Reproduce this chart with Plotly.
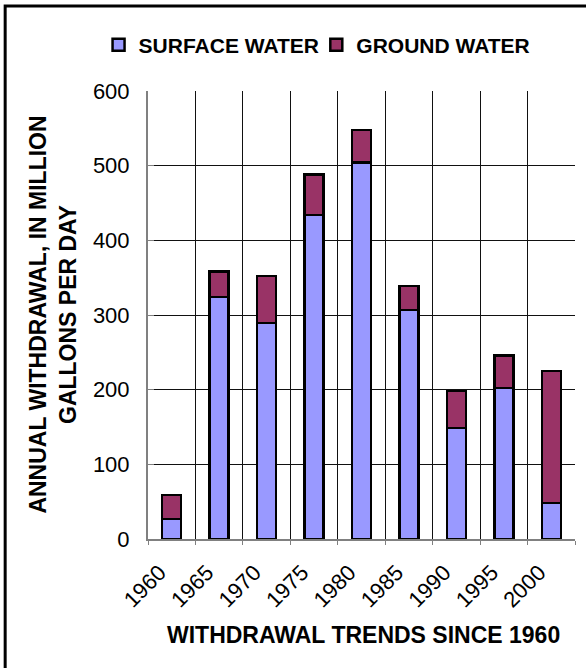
import plotly.graph_objects as go

years = ["1960", "1965", "1970", "1975", "1980", "1985", "1990", "1995", "2000"]
surface_water = [27, 324, 289, 434, 504, 307, 149, 202, 48]
ground_water = [32, 34, 63, 54, 44, 32, 49, 44, 177]
y_ticks = [0, 100, 200, 300, 400, 500, 600]

FONT = "Arial, Liberation Sans, sans-serif"

W, H = 586, 668
L, R, T, B = 147.5, 11, 91, 128.5
pw, ph = W - L - R, H - T - B

def px_x(p):
    return (p - L) / pw

def px_y(p):
    return (H - B - p) / ph

legend_font = dict(family=FONT, size=21, color="black", weight="bold")

fig = go.Figure()
fig.add_trace(go.Bar(
    x=years, y=surface_water, name="SURFACE WATER",
    marker=dict(color="#9999FF", line=dict(color="#000000", width=2.5)),
    legend="legend",
))
fig.add_trace(go.Bar(
    x=years, y=ground_water, name="GROUND WATER",
    marker=dict(color="#993366", line=dict(color="#000000", width=2.5)),
    legend="legend2",
))

fig.update_layout(
    barmode="stack",
    bargap=0.6,
    width=W, height=H,
    margin=dict(l=L, r=R, t=T, b=B, autoexpand=False),
    paper_bgcolor="white",
    plot_bgcolor="white",
    font=dict(family=FONT, color="black"),
    showlegend=True,
    legend=dict(
        orientation="h",
        x=px_x(98), xanchor="left",
        y=px_y(45), yanchor="middle",
        font=legend_font,
        bgcolor="rgba(0,0,0,0)",
        itemclick=False,
    ),
    legend2=dict(
        orientation="h",
        x=px_x(316), xanchor="left",
        y=px_y(45), yanchor="middle",
        font=legend_font,
        bgcolor="rgba(0,0,0,0)",
        itemclick=False,
    ),
    xaxis=dict(
        type="category",
        tickson="boundaries",
        showgrid=True, gridcolor="#111111", gridwidth=1,
        showline=True, linecolor="#808080", linewidth=2,
        ticks="outside", ticklen=4, tickcolor="#808080",
        tickangle=-45,
        tickfont=dict(family=FONT, size=22, color="black"),
        ticklabelstandoff=10,
        ticklabelshift=-12,
        range=[-0.5, 8.5],
        automargin=False,
    ),
    yaxis=dict(
        range=[0, 600],
        tickvals=y_ticks,
        showgrid=True, gridcolor="#111111", gridwidth=1,
        showline=True, linecolor="#808080", linewidth=2,
        ticks="inside", ticklen=6, tickcolor="#808080",
        tickfont=dict(family=FONT, size=22, color="black"),
        ticklabelstandoff=12,
        zeroline=False,
        automargin=False,
    ),
    annotations=[
        dict(
            text="ANNUAL WITHDRAWAL, IN MILLION<br>GALLONS PER DAY",
            xref="paper", yref="paper",
            x=px_x(52), y=0.5, xanchor="center", yanchor="middle",
            textangle=-90, showarrow=False,
            font=dict(family=FONT, size=23, color="black", weight="bold"),
        ),
        dict(
            text="WITHDRAWAL TRENDS SINCE 1960",
            xref="paper", yref="paper",
            x=px_x(363), y=px_y(636), xanchor="center", yanchor="middle",
            showarrow=False,
            font=dict(family=FONT, size=23, color="black", weight="bold"),
        ),
    ],
    shapes=[
        dict(
            type="rect", xref="paper", yref="paper",
            x0=px_x(4.5), y0=px_y(720), x1=px_x(640), y1=px_y(6),
            line=dict(color="black", width=3),
            fillcolor="rgba(0,0,0,0)", layer="above",
        ),
    ],
)

fig.write_html(
    "out.html",
    config={"displayModeBar": False},
    post_script="document.body.style.margin='0';document.body.style.overflow='hidden';",
)
